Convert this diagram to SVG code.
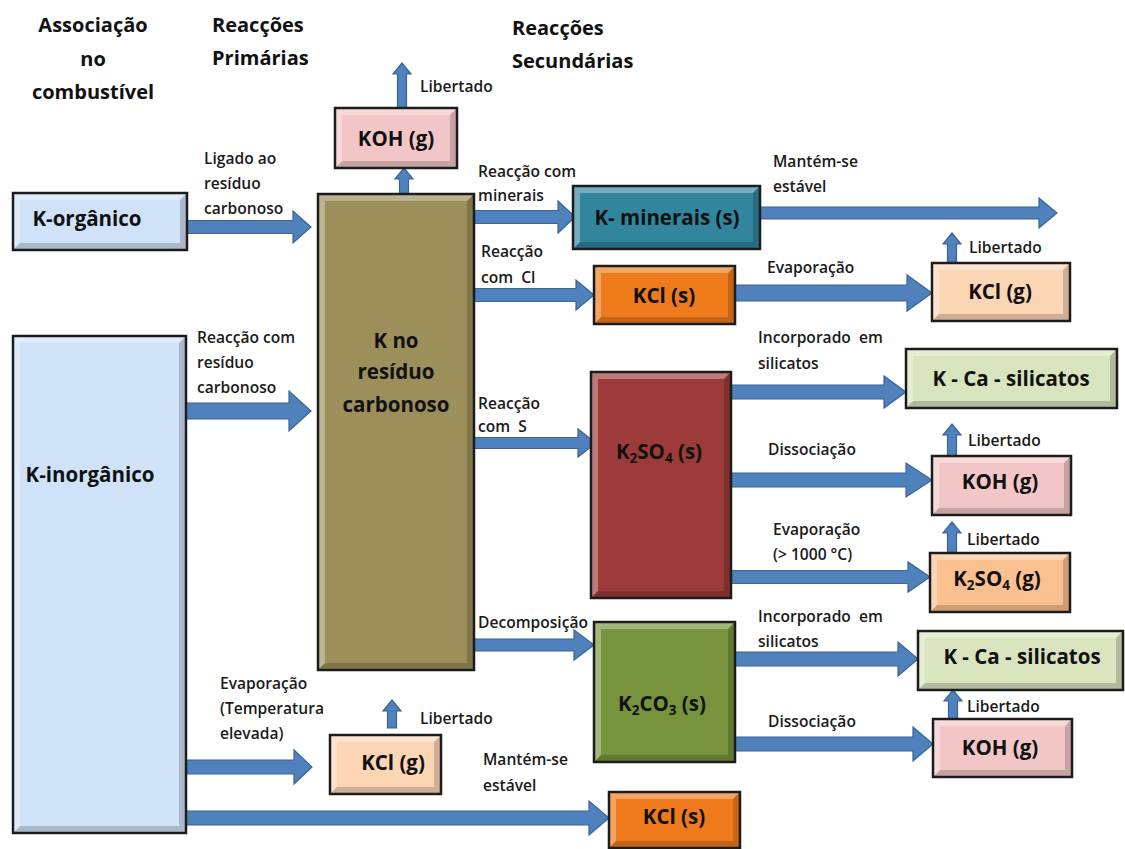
<svg xmlns="http://www.w3.org/2000/svg" width="1125" height="849" viewBox="0 0 1125 849">
<style>
.hd{font-family:"Open Sans","Liberation Sans",sans-serif;font-weight:bold;font-size:20px;fill:#111}
.lb{font-family:"Open Sans","Liberation Sans",sans-serif;font-weight:600;font-size:15.6px;fill:#1a1a1a;white-space:pre}
.nt{font-family:"Open Sans","Liberation Sans",sans-serif;font-weight:bold;font-size:20.5px;fill:#111;text-anchor:middle}
.bd{fill:none;stroke:#1c1c1c;stroke-width:2.5}
.hl{fill:#fff;opacity:.33}
.sh{fill:#000;opacity:.18}
.ar{fill:#4f81bd;stroke:#3a6494;stroke-width:1.2}
.sub{font-size:13.5px}
</style>
<rect width="1125" height="849" fill="#fff"/>
<g id="headers">
<text class="hd" x="93" y="32" text-anchor="middle">Associação</text>
<text class="hd" x="93" y="66" text-anchor="middle">no</text>
<text class="hd" x="93" y="99" text-anchor="middle">combustível</text>
<text class="hd" x="212" y="32">Reacções</text>
<text class="hd" x="212" y="65">Primárias</text>
<text class="hd" x="512" y="35">Reacções</text>
<text class="hd" x="512" y="68">Secundárias</text>
</g>
<g id="connectors">
<polygon class="ar" points="187,220.5 293,220.5 293,211 311,227 293,243 293,233.5 187,233.5"/>
<polygon class="ar" points="186,403 289,403 289,391 311,411 289,431 289,419 186,419"/>
<polygon class="ar" points="474,210.5 558,210.5 558,201 575,217 558,233 558,223.5 474,223.5"/>
<polygon class="ar" points="760,207 1039,207 1039,198 1057,213 1039,228 1039,219 760,219"/>
<polygon class="ar" points="474,288.5 576,288.5 576,280 594,295 576,310 576,301.5 474,301.5"/>
<polygon class="ar" points="735,285 907,285 907,275 932,293 907,311 907,301 735,301"/>
<polygon class="ar" points="474,437.5 578,437.5 578,429 596,443 578,457 578,448.5 474,448.5"/>
<polygon class="ar" points="731,385 884,385 884,376 906,392 884,408 884,399 731,399"/>
<polygon class="ar" points="731,473 906,473 906,463 932,480 906,497 906,487 731,487"/>
<polygon class="ar" points="731,570.5 908,570.5 908,562 930,577 908,592 908,583.5 731,583.5"/>
<polygon class="ar" points="474,639 574,639 574,630 594,645 574,660 574,651 474,651"/>
<polygon class="ar" points="735,652 898,652 898,642 918,659 898,676 898,666 735,666"/>
<polygon class="ar" points="735,737 913,737 913,727 933,744 913,761 913,751 735,751"/>
<polygon class="ar" points="186,760 294,760 294,750 312,767 294,784 294,774 186,774"/>
<polygon class="ar" points="186,811 589,811 589,801 609,818 589,835 589,825 186,825"/>
<polygon class="ar" points="399.5,194 399.5,179 395,179 404,168 413,179 408.5,179 408.5,194"/>
<polygon class="ar" points="397.5,108 397.5,74 393,74 402,63 411,74 406.5,74 406.5,108"/>
<polygon class="ar" points="947.5,263 947.5,244 943,244 952,233 961,244 956.5,244 956.5,263"/>
<polygon class="ar" points="947.5,456 947.5,435 943,435 952,424 961,435 956.5,435 956.5,456"/>
<polygon class="ar" points="947.5,553 947.5,533 943,533 952,522 961,533 956.5,533 956.5,553"/>
<polygon class="ar" points="948.5,719 948.5,701 944,701 953,690 962,701 957.5,701 957.5,719"/>
<polygon class="ar" points="387.5,728 387.5,711 383,711 392,700 401,711 396.5,711 396.5,728"/>
</g>
<g id="labels">
<text class="lb" x="420" y="92">Libertado</text>
<text class="lb" x="204" y="164">Ligado ao</text>
<text class="lb" x="204" y="189">resíduo</text>
<text class="lb" x="204" y="214">carbonoso</text>
<text class="lb" x="478" y="177">Reacção com</text>
<text class="lb" x="478" y="201">minerais</text>
<text class="lb" x="773" y="167">Mantém-se</text>
<text class="lb" x="773" y="192">estável</text>
<text class="lb" x="481" y="257">Reacção</text>
<text class="lb" x="481" y="283">com  Cl</text>
<text class="lb" x="767" y="273">Evaporação</text>
<text class="lb" x="969" y="253">Libertado</text>
<text class="lb" x="197" y="343">Reacção com</text>
<text class="lb" x="197" y="368">resíduo</text>
<text class="lb" x="197" y="393">carbonoso</text>
<text class="lb" x="758" y="343">Incorporado  em</text>
<text class="lb" x="758" y="369">silicatos</text>
<text class="lb" x="478" y="409">Reacção</text>
<text class="lb" x="478" y="432">com  S</text>
<text class="lb" x="768" y="455">Dissociação</text>
<text class="lb" x="968" y="446">Libertado</text>
<text class="lb" x="773" y="535">Evaporação</text>
<text class="lb" x="773" y="560">(&gt; 1000 °C)</text>
<text class="lb" x="967" y="545">Libertado</text>
<text class="lb" x="478" y="628">Decomposição</text>
<text class="lb" x="758" y="622">Incorporado  em</text>
<text class="lb" x="758" y="647">silicatos</text>
<text class="lb" x="967" y="712">Libertado</text>
<text class="lb" x="768" y="727">Dissociação</text>
<text class="lb" x="220" y="689">Evaporação</text>
<text class="lb" x="220" y="714">(Temperatura</text>
<text class="lb" x="220" y="739">elevada)</text>
<text class="lb" x="420" y="724">Libertado</text>
<text class="lb" x="483" y="765">Mantém-se</text>
<text class="lb" x="483" y="791">estável</text>
</g>
<g id="korg">
<rect x="13" y="193" width="174" height="57" fill="#cfe2f7"/>
<path class="hl" d="M13 193 H187 L180 200 H20 V243 L13 250 Z"/>
<path class="sh" d="M187 193 V250 H13 L20 243 H180 V200 Z"/>
<rect class="bd" x="13" y="193" width="174" height="57"/>
<text class="nt" x="87" y="226">K-orgânico</text>
</g>
<g id="kinorg">
<rect x="13" y="336" width="173" height="497" fill="#cfe2f7"/>
<path class="hl" d="M13 336 H186 L179 343 H20 V826 L13 833 Z"/>
<path class="sh" d="M186 336 V833 H13 L20 826 H179 V343 Z"/>
<rect class="bd" x="13" y="336" width="173" height="497"/>
<text class="nt" x="90" y="482">K-inorgânico</text>
</g>
<g id="residue">
<rect x="318" y="194" width="156" height="476" fill="#9c8f5a"/>
<path class="hl" d="M318 194 H474 L467 201 H325 V663 L318 670 Z"/>
<path class="sh" d="M474 194 V670 H318 L325 663 H467 V201 Z"/>
<rect class="bd" x="318" y="194" width="156" height="476"/>
<text class="nt" x="396" y="348">K no</text>
<text class="nt" x="396" y="379">resíduo</text>
<text class="nt" x="396" y="412">carbonoso</text>
</g>
<g id="koh1">
<rect x="335" y="108" width="122" height="60" fill="#f2c6c6"/>
<path class="hl" d="M335 108 H457 L450 115 H342 V161 L335 168 Z"/>
<path class="sh" d="M457 108 V168 H335 L342 161 H450 V115 Z"/>
<rect class="bd" x="335" y="108" width="122" height="60"/>
<text class="nt" x="396" y="146">KOH (g)</text>
</g>
<g id="kmin">
<rect x="573" y="186" width="187" height="63" fill="#31859c"/>
<path class="hl" d="M573 186 H760 L753 193 H580 V242 L573 249 Z"/>
<path class="sh" d="M760 186 V249 H573 L580 242 H753 V193 Z"/>
<rect class="bd" x="573" y="186" width="187" height="63"/>
<text class="nt" x="667" y="225">K- minerais (s)</text>
</g>
<g id="kcls1">
<rect x="594" y="266" width="141" height="58" fill="#ee7a1c"/>
<path class="hl" d="M594 266 H735 L728 273 H601 V317 L594 324 Z"/>
<path class="sh" d="M735 266 V324 H594 L601 317 H728 V273 Z"/>
<rect class="bd" x="594" y="266" width="141" height="58"/>
<text class="nt" x="664" y="303">KCl (s)</text>
</g>
<g id="kclg1">
<rect x="932" y="263" width="138" height="58" fill="#fcd5b5"/>
<path class="hl" d="M932 263 H1070 L1063 270 H939 V314 L932 321 Z"/>
<path class="sh" d="M1070 263 V321 H932 L939 314 H1063 V270 Z"/>
<rect class="bd" x="932" y="263" width="138" height="58"/>
<text class="nt" x="1000" y="299">KCl (g)</text>
</g>
<g id="kcasil1">
<rect x="906" y="349" width="211" height="59" fill="#d7e4bd"/>
<path class="hl" d="M906 349 H1117 L1110 356 H913 V401 L906 408 Z"/>
<path class="sh" d="M1117 349 V408 H906 L913 401 H1110 V356 Z"/>
<rect class="bd" x="906" y="349" width="211" height="59"/>
<text class="nt" x="1011" y="386">K - Ca - silicatos</text>
</g>
<g id="k2so4s">
<rect x="591" y="372" width="140" height="226" fill="#9c3b39"/>
<path class="hl" d="M591 372 H731 L724 379 H598 V591 L591 598 Z"/>
<path class="sh" d="M731 372 V598 H591 L598 591 H724 V379 Z"/>
<rect class="bd" x="591" y="372" width="140" height="226"/>
<text class="nt" x="659" y="459">K<tspan class="sub" dy="4">2</tspan><tspan dy="-4">SO</tspan><tspan class="sub" dy="4">4</tspan><tspan dy="-4"> (s)</tspan></text>
</g>
<g id="koh2">
<rect x="932" y="456" width="139" height="59" fill="#f2c6c6"/>
<path class="hl" d="M932 456 H1071 L1064 463 H939 V508 L932 515 Z"/>
<path class="sh" d="M1071 456 V515 H932 L939 508 H1064 V463 Z"/>
<rect class="bd" x="932" y="456" width="139" height="59"/>
<text class="nt" x="1000" y="489">KOH (g)</text>
</g>
<g id="k2so4g">
<rect x="930" y="553" width="140" height="59" fill="#fac090"/>
<path class="hl" d="M930 553 H1070 L1063 560 H937 V605 L930 612 Z"/>
<path class="sh" d="M1070 553 V612 H930 L937 605 H1063 V560 Z"/>
<rect class="bd" x="930" y="553" width="140" height="59"/>
<text class="nt" x="997" y="586">K<tspan class="sub" dy="4">2</tspan><tspan dy="-4">SO</tspan><tspan class="sub" dy="4">4</tspan><tspan dy="-4"> (g)</tspan></text>
</g>
<g id="k2co3">
<rect x="594" y="622" width="141" height="140" fill="#77933c"/>
<path class="hl" d="M594 622 H735 L728 629 H601 V755 L594 762 Z"/>
<path class="sh" d="M735 622 V762 H594 L601 755 H728 V629 Z"/>
<rect class="bd" x="594" y="622" width="141" height="140"/>
<text class="nt" x="662" y="711">K<tspan class="sub" dy="4">2</tspan><tspan dy="-4">CO</tspan><tspan class="sub" dy="4">3</tspan><tspan dy="-4"> (s)</tspan></text>
</g>
<g id="kcasil2">
<rect x="918" y="631" width="205" height="59" fill="#d7e4bd"/>
<path class="hl" d="M918 631 H1123 L1116 638 H925 V683 L918 690 Z"/>
<path class="sh" d="M1123 631 V690 H918 L925 683 H1116 V638 Z"/>
<rect class="bd" x="918" y="631" width="205" height="59"/>
<text class="nt" x="1022" y="664">K - Ca - silicatos</text>
</g>
<g id="koh3">
<rect x="933" y="719" width="139" height="58" fill="#f2c6c6"/>
<path class="hl" d="M933 719 H1072 L1065 726 H940 V770 L933 777 Z"/>
<path class="sh" d="M1072 719 V777 H933 L940 770 H1065 V726 Z"/>
<rect class="bd" x="933" y="719" width="139" height="58"/>
<text class="nt" x="1000" y="755">KOH (g)</text>
</g>
<g id="kclg2">
<rect x="330" y="735" width="111" height="59" fill="#fcd5b5"/>
<path class="hl" d="M330 735 H441 L434 742 H337 V787 L330 794 Z"/>
<path class="sh" d="M441 735 V794 H330 L337 787 H434 V742 Z"/>
<rect class="bd" x="330" y="735" width="111" height="59"/>
<text class="nt" x="393" y="770">KCl (g)</text>
</g>
<g id="kcls2">
<rect x="609" y="792" width="131" height="56" fill="#ee7a1c"/>
<path class="hl" d="M609 792 H740 L733 799 H616 V841 L609 848 Z"/>
<path class="sh" d="M740 792 V848 H609 L616 841 H733 V799 Z"/>
<rect class="bd" x="609" y="792" width="131" height="56"/>
<text class="nt" x="674" y="824">KCl (s)</text>
</g>
</svg>
